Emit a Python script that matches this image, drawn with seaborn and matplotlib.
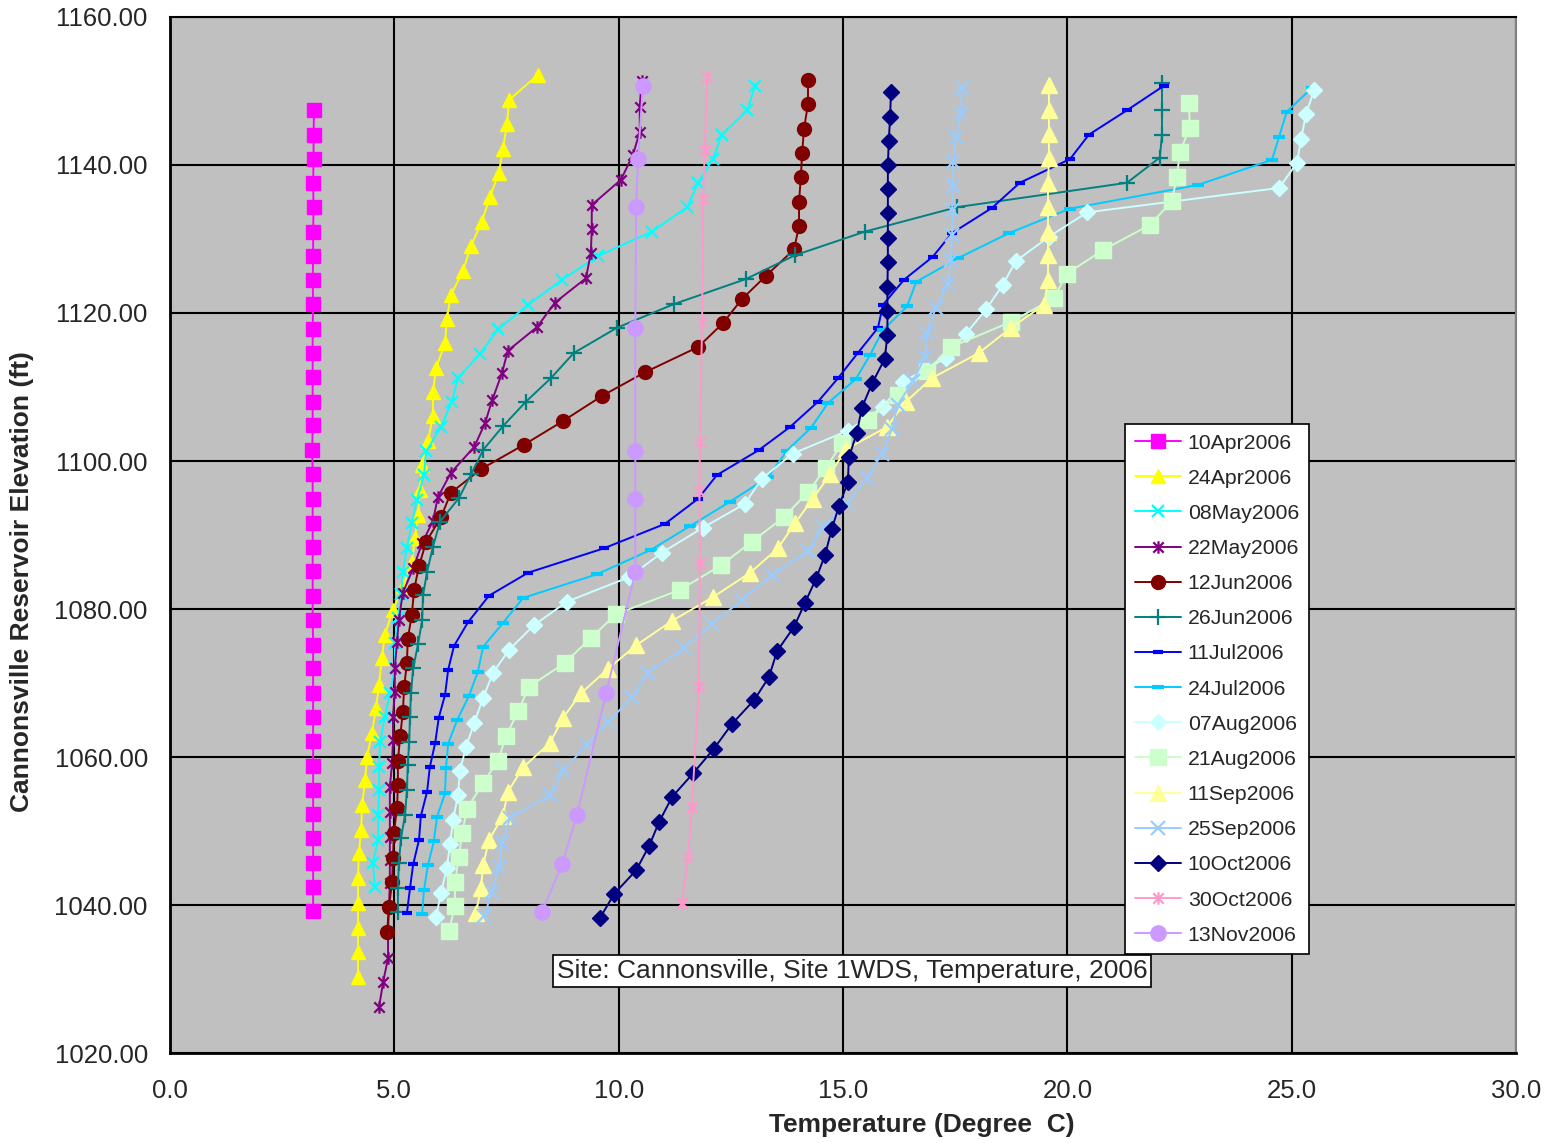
import matplotlib
matplotlib.use("Agg")
import matplotlib.pyplot as plt
from matplotlib.path import Path
import seaborn as sns

# Cannonsville reservoir temperature profiles, Site 1WDS, 2006
# elevation (ft) / temperature (deg C) for each survey date

apr10_elev = [1147.4, 1144.1, 1140.8, 1137.6, 1134.3, 1131.0, 1127.7, 1124.4, 1121.2, 1117.9,
              1114.6, 1111.3, 1108.0, 1104.8, 1101.5, 1098.2, 1094.9, 1091.6, 1088.4, 1085.1,
              1081.8, 1078.5, 1075.2, 1072.0, 1068.7, 1065.4, 1062.1, 1058.8, 1055.6, 1052.3,
              1049.0, 1045.7, 1042.4, 1039.2]
apr10_temp = [3.21, 3.20, 3.20, 3.19, 3.20, 3.19, 3.19, 3.18, 3.19, 3.18,
              3.18, 3.18, 3.18, 3.18, 3.17, 3.18, 3.18, 3.18, 3.18, 3.18,
              3.18, 3.18, 3.19, 3.19, 3.19, 3.19, 3.19, 3.19, 3.19, 3.19,
              3.19, 3.19, 3.19, 3.19]

apr24_elev = [1152.2, 1148.8, 1145.5, 1142.2, 1138.9, 1135.7, 1132.3, 1129.1, 1125.7, 1122.4,
              1119.2, 1115.9, 1112.6, 1109.3, 1106.1, 1102.7, 1099.5, 1096.1, 1092.7, 1089.6,
              1086.4, 1083.1, 1079.9, 1076.5, 1073.4, 1069.7, 1066.6, 1063.2, 1060.0, 1056.9,
              1053.5, 1050.1, 1047.0, 1043.6, 1040.3, 1036.9, 1033.6, 1030.3]
apr24_temp = [8.20, 7.56, 7.51, 7.42, 7.33, 7.13, 6.95, 6.71, 6.53, 6.26,
              6.17, 6.13, 5.93, 5.86, 5.86, 5.75, 5.61, 5.57, 5.53, 5.46,
              5.39, 5.19, 4.97, 4.79, 4.72, 4.66, 4.59, 4.50, 4.39, 4.35,
              4.28, 4.26, 4.21, 4.19, 4.19, 4.19, 4.19, 4.19]

may08_elev = [1150.7, 1147.4, 1144.1, 1140.8, 1137.6, 1134.3, 1131.0, 1127.7, 1124.5, 1121.1,
              1117.8, 1114.5, 1111.2, 1108.0, 1104.6, 1101.3, 1098.1, 1094.7, 1091.6, 1088.2,
              1085.0, 1082.0, 1078.8, 1075.4, 1072.0, 1068.6, 1065.4, 1062.0, 1058.7, 1055.5,
              1052.2, 1048.8, 1045.7, 1042.4]
may08_temp = [13.04, 12.87, 12.30, 12.10, 11.77, 11.53, 10.74, 9.54, 8.74, 7.98,
              7.31, 6.91, 6.42, 6.28, 6.04, 5.71, 5.66, 5.50, 5.39, 5.28,
              5.19, 5.15, 5.08, 5.01, 5.01, 4.90, 4.79, 4.68, 4.66, 4.66,
              4.64, 4.64, 4.52, 4.57]

may22_elev = [1151.4, 1147.8, 1144.5, 1141.4, 1138.0, 1134.6, 1131.4, 1128.1, 1124.7, 1121.4,
              1118.1, 1114.9, 1111.9, 1108.2, 1105.1, 1101.9, 1098.4, 1095.1, 1091.9, 1088.9,
              1085.5, 1082.2, 1078.5, 1075.5, 1072.0, 1068.8, 1065.4, 1062.3, 1059.2, 1055.9,
              1052.6, 1049.2, 1046.1, 1043.0, 1039.7, 1036.4, 1032.8, 1029.6, 1026.2]
may22_temp = [10.51, 10.47, 10.47, 10.32, 10.05, 9.40, 9.40, 9.38, 9.27, 8.58,
              8.18, 7.53, 7.40, 7.18, 7.02, 6.78, 6.26, 5.97, 5.86, 5.62,
              5.42, 5.19, 5.10, 5.06, 5.01, 5.01, 4.97, 4.97, 4.95, 4.90,
              4.90, 4.90, 4.90, 4.90, 4.88, 4.86, 4.86, 4.75, 4.66]

jun12_elev = [1151.5, 1148.2, 1144.9, 1141.6, 1138.4, 1135.0, 1131.8, 1128.6, 1125.0, 1121.9,
              1118.6, 1115.4, 1112.0, 1108.8, 1105.4, 1102.2, 1098.9, 1095.7, 1092.4, 1089.1,
              1085.8, 1082.6, 1079.2, 1076.0, 1072.7, 1069.5, 1066.1, 1062.8, 1059.5, 1056.2,
              1053.1, 1049.7, 1046.4, 1043.1, 1039.7, 1036.4]
jun12_temp = [14.22, 14.22, 14.13, 14.09, 14.06, 14.02, 14.02, 13.91, 13.28, 12.75,
              12.32, 11.77, 10.59, 9.63, 8.76, 7.89, 6.93, 6.26, 6.04, 5.71,
              5.55, 5.44, 5.39, 5.30, 5.28, 5.22, 5.19, 5.13, 5.08, 5.08,
              5.06, 4.99, 4.97, 4.95, 4.88, 4.84]

jun26_elev = [1151.1, 1147.4, 1144.1, 1141.0, 1137.6, 1134.3, 1131.0, 1127.8, 1124.6, 1121.2,
              1118.0, 1114.6, 1111.2, 1108.0, 1104.7, 1101.5, 1098.2, 1095.0, 1091.8, 1088.4,
              1085.0, 1081.9, 1078.5, 1075.3, 1072.0, 1068.6, 1065.4, 1062.0, 1058.9, 1055.5,
              1052.2, 1049.1, 1045.7, 1042.3, 1039.0]
jun26_temp = [22.11, 22.11, 22.11, 22.06, 21.33, 17.54, 15.49, 13.93, 12.84, 11.23,
              9.96, 9.00, 8.49, 7.93, 7.42, 6.98, 6.71, 6.44, 6.02, 5.86,
              5.73, 5.64, 5.62, 5.53, 5.42, 5.37, 5.35, 5.33, 5.30, 5.28,
              5.24, 5.15, 5.10, 5.08, 5.08]

jul11_elev = [1150.7, 1147.4, 1144.1, 1140.8, 1137.6, 1134.2, 1130.8, 1127.6, 1124.5, 1121.1,
              1118.0, 1114.6, 1111.2, 1108.0, 1104.6, 1101.5, 1098.1, 1094.9, 1091.5, 1088.2,
              1084.9, 1081.8, 1078.2, 1075.0, 1071.8, 1068.4, 1065.3, 1061.9, 1058.6, 1055.3,
              1052.0, 1048.8, 1045.5, 1042.3, 1038.9]
jul11_temp = [22.15, 21.33, 20.48, 20.06, 18.94, 18.32, 17.43, 17.00, 16.36, 15.89,
              15.78, 15.33, 14.89, 14.44, 13.82, 13.13, 12.19, 11.77, 11.03, 9.67,
              7.98, 7.11, 6.64, 6.33, 6.20, 6.13, 5.99, 5.91, 5.79, 5.73,
              5.59, 5.55, 5.42, 5.35, 5.28]

jul24_elev = [1150.4, 1147.2, 1143.8, 1140.7, 1137.3, 1134.1, 1130.8, 1127.4, 1124.2, 1120.9,
              1117.7, 1114.3, 1111.1, 1107.8, 1104.5, 1101.4, 1097.8, 1094.5, 1091.2, 1088.0,
              1084.7, 1081.5, 1078.1, 1074.9, 1071.5, 1068.2, 1065.0, 1061.8, 1058.5, 1055.1,
              1051.9, 1048.6, 1045.4, 1042.0, 1038.8]
jul24_temp = [25.45, 24.89, 24.72, 24.56, 22.91, 20.06, 18.70, 17.56, 16.63, 16.43,
              15.89, 15.60, 15.29, 14.66, 14.29, 13.75, 13.33, 12.48, 11.59, 10.72,
              9.52, 7.87, 7.42, 6.98, 6.86, 6.66, 6.40, 6.20, 6.15, 6.13,
              5.95, 5.88, 5.75, 5.66, 5.62]

aug07_elev = [1150.1, 1146.9, 1143.5, 1140.3, 1136.9, 1133.6, 1130.3, 1127.0, 1123.8, 1120.5,
              1117.2, 1113.9, 1110.7, 1107.3, 1104.1, 1101.0, 1097.6, 1094.2, 1091.0, 1087.6,
              1084.3, 1081.0, 1077.8, 1074.5, 1071.4, 1068.0, 1064.6, 1061.4, 1058.1, 1054.9,
              1051.5, 1048.2, 1045.0, 1041.6, 1038.4]
aug07_temp = [25.50, 25.32, 25.21, 25.12, 24.72, 20.44, 19.59, 18.85, 18.56, 18.19,
              17.74, 17.29, 16.34, 15.89, 15.11, 13.88, 13.19, 12.81, 11.88, 10.96,
              10.23, 8.85, 8.11, 7.56, 7.20, 6.98, 6.78, 6.60, 6.46, 6.42,
              6.31, 6.24, 6.17, 6.04, 5.93]

aug21_elev = [1148.4, 1145.0, 1141.8, 1138.4, 1135.1, 1131.9, 1128.5, 1125.3, 1122.0, 1118.8,
              1115.4, 1112.2, 1108.9, 1105.5, 1102.4, 1099.1, 1095.8, 1092.4, 1089.1, 1085.9,
              1082.6, 1079.3, 1076.1, 1072.7, 1069.5, 1066.2, 1062.8, 1059.5, 1056.5, 1053.0,
              1049.7, 1046.5, 1043.1, 1039.9, 1036.5]
aug21_temp = [22.71, 22.73, 22.51, 22.44, 22.33, 21.84, 20.79, 19.99, 19.70, 18.74,
              17.41, 16.87, 16.22, 15.56, 14.98, 14.62, 14.22, 13.68, 12.97, 12.28,
              11.37, 9.94, 9.38, 8.80, 8.00, 7.76, 7.49, 7.31, 6.98, 6.62,
              6.51, 6.44, 6.35, 6.35, 6.22]

sep11_elev = [1150.8, 1147.4, 1144.2, 1140.9, 1137.6, 1134.3, 1131.0, 1127.8, 1124.5, 1121.1,
              1118.0, 1114.6, 1111.2, 1108.0, 1104.6, 1101.6, 1098.2, 1094.9, 1091.6, 1088.2,
              1084.9, 1081.6, 1078.4, 1075.1, 1071.9, 1068.6, 1065.3, 1061.9, 1058.6, 1055.3,
              1052.0, 1048.8, 1045.4, 1042.3, 1038.9]
sep11_temp = [19.59, 19.59, 19.59, 19.59, 19.57, 19.57, 19.57, 19.57, 19.57, 19.48,
              18.74, 18.03, 16.98, 16.40, 15.98, 15.07, 14.71, 14.33, 13.93, 13.55,
              12.93, 12.10, 11.19, 10.39, 9.76, 9.16, 8.76, 8.47, 7.87, 7.53,
              7.42, 7.11, 6.98, 6.93, 6.82]

sep25_elev = [1150.4, 1147.0, 1143.8, 1140.4, 1137.2, 1133.9, 1130.5, 1127.2, 1123.9, 1120.7,
              1117.3, 1114.1, 1110.8, 1107.6, 1104.3, 1101.0, 1097.7, 1094.3, 1091.1, 1087.8,
              1084.6, 1081.2, 1078.0, 1074.7, 1071.4, 1068.1, 1064.7, 1061.6, 1058.2, 1054.9,
              1051.8, 1048.4, 1045.1, 1041.8, 1038.5]
sep25_temp = [17.65, 17.63, 17.52, 17.45, 17.45, 17.43, 17.43, 17.41, 17.34, 17.07,
              16.87, 16.83, 16.56, 16.22, 16.09, 15.87, 15.53, 15.09, 14.55, 14.22,
              13.42, 12.75, 12.08, 11.46, 10.65, 10.30, 9.76, 9.29, 8.76, 8.47,
              7.58, 7.40, 7.33, 7.18, 7.00]

oct10_elev = [1149.9, 1146.5, 1143.2, 1140.0, 1136.8, 1133.5, 1130.1, 1126.9, 1123.5, 1120.3,
              1117.0, 1113.8, 1110.5, 1107.2, 1103.8, 1100.5, 1097.2, 1093.9, 1090.8, 1087.3,
              1084.1, 1080.8, 1077.6, 1074.3, 1070.8, 1067.7, 1064.5, 1061.1, 1057.8, 1054.6,
              1051.2, 1048.0, 1044.7, 1041.5, 1038.2]
oct10_temp = [16.07, 16.05, 16.02, 16.00, 16.00, 16.00, 16.00, 16.00, 15.99, 15.99,
              15.99, 15.93, 15.65, 15.42, 15.31, 15.13, 15.11, 14.91, 14.75, 14.60,
              14.40, 14.15, 13.91, 13.53, 13.35, 13.02, 12.53, 12.12, 11.66, 11.19,
              10.90, 10.68, 10.39, 9.90, 9.58]

oct30_elev = [1151.9, 1142.0, 1135.4, 1118.8, 1102.6, 1096.0, 1086.2, 1069.6, 1053.2, 1046.6, 1040.3]
oct30_temp = [11.97, 11.92, 11.88, 11.86, 11.81, 11.80, 11.81, 11.79, 11.63, 11.55, 11.41]

nov13_elev = [1150.7, 1140.8, 1134.3, 1118.0, 1101.4, 1094.9, 1085.0, 1068.6, 1052.2, 1045.5, 1039.1]
nov13_temp = [10.54, 10.43, 10.39, 10.37, 10.37, 10.37, 10.37, 9.72, 9.07, 8.74, 8.29]

dates = ["10Apr2006", "24Apr2006", "08May2006", "22May2006", "12Jun2006",
         "26Jun2006", "11Jul2006", "24Jul2006", "07Aug2006", "21Aug2006",
         "11Sep2006", "25Sep2006", "10Oct2006", "30Oct2006", "13Nov2006"]

profiles = [
    (apr10_temp, apr10_elev), (apr24_temp, apr24_elev), (may08_temp, may08_elev),
    (may22_temp, may22_elev), (jun12_temp, jun12_elev), (jun26_temp, jun26_elev),
    (jul11_temp, jul11_elev), (jul24_temp, jul24_elev), (aug07_temp, aug07_elev),
    (aug21_temp, aug21_elev), (sep11_temp, sep11_elev), (sep25_temp, sep25_elev),
    (oct10_temp, oct10_elev), (oct30_temp, oct30_elev), (nov13_temp, nov13_elev),
]

# Excel-style asterisk: an "x" with a vertical bar through it
asterisk = Path([(-1, -1), (1, 1), (-1, 1), (1, -1), (0, -1.2), (0, 1.2)],
                [Path.MOVETO, Path.LINETO, Path.MOVETO, Path.LINETO, Path.MOVETO, Path.LINETO])

# colour, marker, markersize, filled?
styles = [
    ("#FF00FF", "s", 9.5, True),
    ("#FFFF00", "^", 10, True),
    ("#00FFFF", "x", 9, False),
    ("#800080", asterisk, 9, False),
    ("#800000", "o", 10, True),
    ("#008080", "+", 11, False),
    ("#0000FF", "_", 7, False),
    ("#00CCFF", "_", 9, False),
    ("#CCFFFF", "D", 8, True),
    ("#CCFFCC", "s", 11, True),
    ("#FFFF99", "^", 11, True),
    ("#99CCFF", "x", 10, False),
    ("#000080", "D", 8, True),
    ("#FF99CC", asterisk, 9, False),
    ("#CC99FF", "o", 11, True),
]

sns.set_style("white")
plt.rcParams["font.family"] = ["Liberation Sans", "DejaVu Sans"]

W, H = 1549, 1143
fig = plt.figure(figsize=(W / 100, H / 100), dpi=100)
ax = fig.add_axes([170 / W, 1 - 1053 / H, (1516 - 170) / W, (1053 - 17) / H])
ax.set_facecolor("#C0C0C0")

for (temp, elev), label, (col, mk, ms, filled) in zip(profiles, dates, styles):
    mew = 1.0 if filled else (3.0 if isinstance(mk, str) and mk == "_" else 1.6)
    sns.lineplot(x=temp, y=elev, sort=False, estimator=None, ax=ax,
                 color=col, linewidth=1.4, marker=mk, markersize=ms,
                 markerfacecolor=col, markeredgecolor=col, markeredgewidth=mew,
                 label=label, zorder=3)

ax.set_xlim(0, 30)
ax.set_ylim(1020, 1160)
ax.set_xticks(range(0, 31, 5))
ax.set_yticks(range(1020, 1161, 20))
ax.set_xticklabels([f"{v:.1f}" for v in range(0, 31, 5)])
ax.set_yticklabels([f"{v:.2f}" for v in range(1020, 1161, 20)])
ax.grid(True, color="black", linewidth=1.5, zorder=1)
ax.set_axisbelow(True)
ax.tick_params(axis="both", direction="out", length=6, width=1.5, color="black",
               labelsize=18.5)
ax.tick_params(axis="x", pad=13)
ax.tick_params(axis="y", pad=10)
for side in ["left", "bottom"]:
    ax.spines[side].set_color("black")
    ax.spines[side].set_linewidth(2)
ax.spines["top"].set_color("black")
ax.spines["top"].set_linewidth(1.5)
ax.spines["right"].set_color("#808080")
ax.spines["right"].set_linewidth(1.5)
ax.set_xlabel("")
ax.set_ylabel("")

fig.text(922 / W, 1 - 1125 / H, "Temperature (Degree  C)", ha="center", va="center",
         fontsize=19, fontweight="bold")
fig.text(22 / W, 1 - 582 / H, "Cannonsville Reservoir Elevation (ft)", ha="center",
         va="center", rotation=90, fontsize=19, fontweight="bold")

handles, labels = ax.get_legend_handles_labels()
leg = ax.legend(handles, labels, loc="upper left",
                bbox_to_anchor=(1125 / W, 1 - 424 / H), bbox_transform=fig.transFigure,
                fontsize=15.3, frameon=True, fancybox=False, framealpha=1,
                facecolor="white", edgecolor="black", labelspacing=0.76,
                handlelength=2.2, handletextpad=0.3, borderpad=0.45, borderaxespad=0)
leg.get_frame().set_linewidth(1.2)

fig.text(852 / W, 1 - 971 / H, "Site: Cannonsville, Site 1WDS, Temperature, 2006",
         ha="center", va="center", fontsize=19,
         bbox=dict(boxstyle="square,pad=0.15", facecolor="white", edgecolor="black",
                   linewidth=1.2))

fig.savefig("out.png", dpi=100)
plt.close(fig)
